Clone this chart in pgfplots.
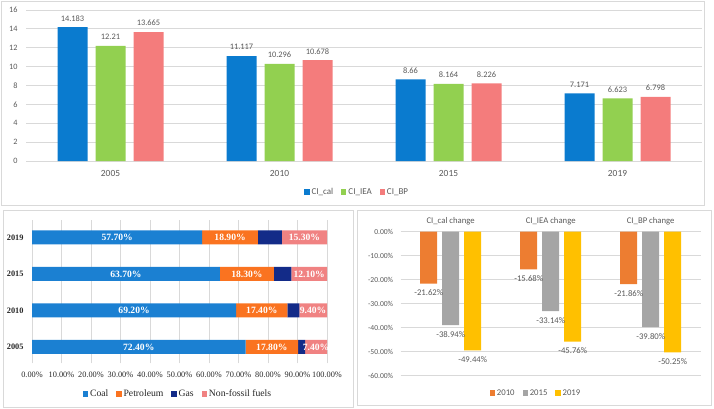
\documentclass[border=0pt]{standalone}
\usepackage{pgfplots}
\pgfplotsset{compat=1.18}
\usepackage{fontspec}
\setmainfont{Carlito}
\newfontfamily\timesf{Liberation Serif}

\definecolor{txtgray}{HTML}{595959}
\definecolor{gridgray}{HTML}{D9D9D9}
\definecolor{cical}{HTML}{0A7BCF}
\definecolor{ciiea}{HTML}{92D050}
\definecolor{cibp}{HTML}{F47C7C}
\definecolor{coal}{HTML}{1B80D2}
\definecolor{petro}{HTML}{FA7320}
\definecolor{gas}{HTML}{132B88}
\definecolor{nonfos}{HTML}{F08282}
\definecolor{c2010}{HTML}{ED7D31}
\definecolor{c2015}{HTML}{A5A5A5}
\definecolor{c2019}{HTML}{FFC000}

\pgfplotsset{
  sqlegend/.style={legend image code/.code={\fill[##1, draw=none] (0pt,-2.6pt) rectangle (5.2pt,2.6pt);}},
  panel/.style={scale only axis, anchor=south west, axis line style={draw=none},
    major tick length=0pt, grid style={gridgray, line width=0.8pt}, clip=false,
    /pgf/number format/assume math mode=true,
    legend style={draw=none, fill=none, legend columns=-1, anchor=center,
      /tikz/every even column/.append style={column sep=6pt}}},
}

\begin{document}
\begin{tikzpicture}
\useasboundingbox (0,0) rectangle (714pt,408pt);
% panel frames
\draw[gridgray, line width=0.8pt] (1pt,203pt) rectangle (704pt,407pt);
\draw[gridgray, line width=0.8pt] (3pt,1pt) rectangle (353pt,198pt);
\draw[gridgray, line width=0.8pt] (357pt,3pt) rectangle (711pt,198pt);

% top: carbon intensity
\begin{axis}[panel, at={(26pt,247pt)}, width=676pt, height=151pt,
  ybar=8pt, bar width=30pt,
  xmin=-0.5, xmax=3.5, ymin=0, ymax=16,
  xtick={0,1,2,3}, xticklabels={2005,2010,2015,2019},
  ytick={0,2,...,16}, ymajorgrids,
  ticklabel style={text=txtgray},
  yticklabel style={font=\fontsize{8.2}{9}\selectfont, xshift=-5pt},
  xticklabel style={font=\fontsize{9.4}{10}\selectfont, yshift=-5.5pt},
  nodes near coords={\pgfmathprintnumber[fixed,precision=3]{\pgfplotspointmeta}},
  every node near coord/.append style={font=\fontsize{8.4}{9}\selectfont, text=txtgray, yshift=2.5pt},
  legend style={at={(0.49,-0.205)}, font=\fontsize{9}{10}\selectfont, text=txtgray},
  sqlegend]
\addplot[fill=cical, draw=none] coordinates {(0,14.183) (1,11.117) (2,8.66) (3,7.171)};
\addplot[fill=ciiea, draw=none] coordinates {(0,12.21) (1,10.296) (2,8.164) (3,6.623)};
\addplot[fill=cibp, draw=none] coordinates {(0,13.665) (1,10.678) (2,8.226) (3,6.798)};
\legend{CI\_cal, CI\_IEA, CI\_BP}
\end{axis}

% bottom left: energy mix (stacked labels are centred in each segment)
\begin{axis}[panel, at={(32pt,44.6pt)}, width=295pt, height=143.1pt,
  xbar stacked, bar width=14pt,
  xmin=0, xmax=100, ymin=-0.45, ymax=3.47,
  ytick={0,1,2,3}, yticklabels={2005,2010,2015,2019},
  xtick={0,10,...,100}, xmajorgrids,
  xticklabel={\pgfmathprintnumber[fixed,fixed zerofill,precision=2]{\tick}\%},
  ticklabel style={text=black!85},
  xticklabel style={font=\timesf\fontsize{8.3}{9}\selectfont, yshift=-5pt},
  yticklabel style={font=\timesf\bfseries\fontsize{8.3}{9}\selectfont, xshift=-5pt},
  visualization depends on={rawx \as \rawx},
  every node near coord/.append style={anchor=center,
    font=\timesf\bfseries\fontsize{9.6}{10}\selectfont, text=white},
  legend style={at={(0.495,-0.214)}, font=\timesf\fontsize{9.7}{10}\selectfont, text=black!85},
  sqlegend]
\addplot[fill=coal, draw=none, nodes near coords={\pgfmathprintnumber[fixed,fixed zerofill,precision=2]{\rawx}\%}]
  coordinates {(72.4,0) (69.2,1) (63.7,2) (57.7,3)};
\addplot[fill=petro, draw=none, nodes near coords={\pgfmathprintnumber[fixed,fixed zerofill,precision=2]{\rawx}\%}]
  coordinates {(17.8,0) (17.4,1) (18.3,2) (18.9,3)};
\addplot[fill=gas, draw=none]
  coordinates {(2.4,0) (4.0,1) (5.9,2) (8.1,3)};
\addplot[fill=nonfos, draw=none, nodes near coords={\pgfmathprintnumber[fixed,fixed zerofill,precision=2]{\rawx}\%}]
  coordinates {(7.4,0) (9.4,1) (12.1,2) (15.3,3)};
\legend{Coal, Petroleum, Gas, Non-fossil fuels}
\end{axis}

% bottom right: change relative to 2005
\begin{axis}[panel, at={(400.7pt,32.3pt)}, width=300pt, height=144pt,
  ybar=5pt, bar width=17pt,
  xmin=-0.5, xmax=2.5, ymin=-60, ymax=0,
  xtick={0,1,2}, xticklabels={CI\_cal change, CI\_IEA change, CI\_BP change},
  xticklabel pos=upper,
  ytick={-60,-50,...,0}, ymajorgrids,
  yticklabel={\pgfmathprintnumber[fixed,fixed zerofill,precision=2]{\tick}\%},
  ticklabel style={text=txtgray},
  yticklabel style={font=\fontsize{7.6}{9}\selectfont, xshift=-4pt},
  xticklabel style={font=\fontsize{8.7}{10}\selectfont, yshift=3pt},
  nodes near coords={\pgfmathprintnumber[fixed,fixed zerofill,precision=2]{\pgfplotspointmeta}\%},
  nodes near coords align={vertical},
  every node near coord/.append style={font=\fontsize{8.7}{10}\selectfont, text=txtgray, yshift=-2.5pt},
  legend style={at={(0.451,-0.12)}, font=\fontsize{8.7}{10}\selectfont, text=txtgray},
  sqlegend]
\addplot[fill=c2010, draw=none] coordinates {(0,-21.62) (1,-15.68) (2,-21.86)};
\addplot[fill=c2015, draw=none] coordinates {(0,-38.94) (1,-33.14) (2,-39.80)};
\addplot[fill=c2019, draw=none] coordinates {(0,-49.44) (1,-45.76) (2,-50.25)};
\legend{2010, 2015, 2019}
\end{axis}
\end{tikzpicture}
\end{document}
